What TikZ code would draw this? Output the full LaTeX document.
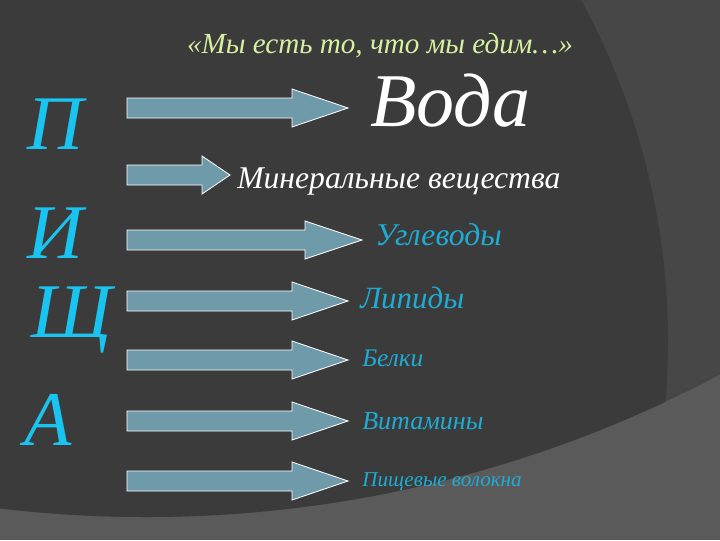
\documentclass[tikz,border=0pt]{standalone}
\usepackage{fontspec}
\setmainfont{Liberation Serif}
\usepackage{tikz}
\usetikzlibrary{calc}
\definecolor{bgdark}{HTML}{3B3B3B}
\definecolor{bgmid}{HTML}{474747}
\definecolor{bgband}{HTML}{5A5A5A}
\definecolor{arrowfill}{HTML}{6F9AAA}
\definecolor{lettercyan}{HTML}{1AC4F0}
\definecolor{foodcyan}{HTML}{1FACD4}
\definecolor{quotegreen}{HTML}{D6F0A2}
\newcommand{\fsz}[1]{\fontsize{#1}{#1}\selectfont}
\tikzset{
  blockarrow/.style={fill=arrowfill, draw=white, line width=0.6pt, line join=miter},
  bigletter/.style={text=lettercyan, inner sep=0pt, font=\itshape\fsz{55}},
  foodname/.style={anchor=base west, inner sep=0pt, font=\itshape}
}

\begin{document}
\begin{tikzpicture}[x=0.025cm, y=-0.025cm]
\useasboundingbox (0,0) rectangle (720,540);
\fill[bgband] (0,0) rectangle (720,540);
\begin{scope}
\clip (146,-708) circle (1225);
\fill[bgmid] (0,0) rectangle (720,540);
\fill[bgdark] (-47,342) circle (715);
\end{scope}

\node[anchor=base, inner sep=0pt, text=quotegreen, font=\itshape\fsz{20.7}] (quote) at (380,53) {«Мы есть то, что мы едим…»};

\node[bigletter] (lp) at (55,124) {П};
\node[bigletter] (li) at (55,233) {И};
\node[bigletter] (lsch) at (72,320) {Щ};
\node[bigletter] (la) at (48,420) {А};

\foreach \n/\y/\xb/\xt in {1/108/292/348, 2/175/202/230, 3/240/305/362, 4/301/292/348,
  5/360/292/348, 6/421/292/348, 7/481/292/348}{
  \draw[blockarrow] (127,\y-10) -- (\xb,\y-10) -- (\xb,\y-19) -- (\xt,\y)
    -- (\xb,\y+19) -- (\xb,\y+10) -- (127,\y+10) -- cycle;
  \coordinate (tip\n) at (\xt,\y);
}

\node[foodname, text=white, font=\itshape\fsz{54}] (voda) at ($(tip1)+(22,18)$) {Вода};
\node[foodname, text=white, font=\itshape\fsz{22.5}] (mineral) at ($(tip2)+(7,13)$) {Минеральные вещества};
\node[foodname, text=foodcyan, font=\itshape\fsz{22.5}] (ugl) at ($(tip3)+(13,5)$) {Углеводы};
\node[foodname, text=foodcyan, font=\itshape\fsz{22}] (lip) at ($(tip4)+(12,7)$) {Липиды};
\node[foodname, text=foodcyan, font=\itshape\fsz{18}] (belki) at ($(tip5)+(14,6)$) {Белки};
\node[foodname, text=foodcyan, font=\itshape\fsz{18.5}] (vit) at ($(tip6)+(14,8)$) {Витамины};
\node[foodname, text=foodcyan, font=\itshape\fsz{15}] (volokna) at ($(tip7)+(14,5)$) {Пищевые волокна};
\end{tikzpicture}
\end{document}
